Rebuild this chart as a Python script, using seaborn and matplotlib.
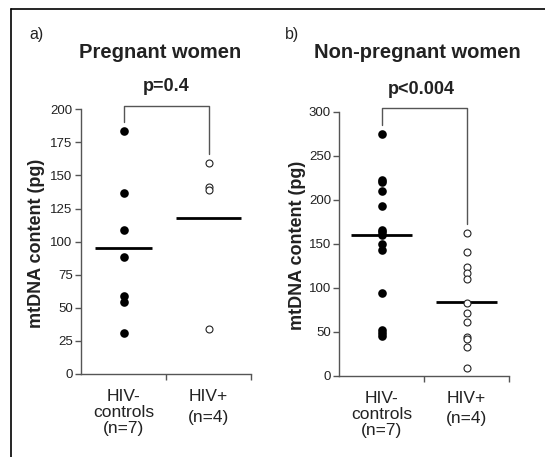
import numpy as np
import pandas as pd
import matplotlib
matplotlib.use("Agg")
import matplotlib.pyplot as plt
import seaborn as sns
from matplotlib.lines import Line2D

sns.set_theme(style="ticks")
plt.rcParams['font.family'] = ['Liberation Sans', 'DejaVu Sans']

# Groups and their axis labels
groups = ["HIV- controls", "HIV+"]
tick_labels = ["HIV-\ncontrols\n(n=7)", "HIV+\n(n=4)"]

# a) pregnant women, mtDNA content (pg)
preg_controls = [183.4, 137.0, 108.8, 88.7, 58.9, 54.7, 30.7]
preg_hiv = [159.2, 141.6, 139.0, 33.8]
preg_centre = [95.0, 118.1]
preg_p = "p=0.4"

# b) non-pregnant women, mtDNA content (pg)
nonpreg_controls = [274.6, 222.3, 219.7, 210.2, 193.2, 165.5, 163.3,
                    159.9, 150.0, 143.2, 94.3, 51.9, 48.5, 45.5]
nonpreg_hiv = [161.7, 140.2, 123.9, 116.3, 110.2, 82.2, 70.8, 61.4,
               44.3, 41.7, 33.0, 9.1]
nonpreg_centre = [159.8, 84.1]
nonpreg_p = "p<0.004"

W, H = 545, 457
fig = plt.figure(figsize=(W / 100, H / 100), dpi=100)

AX_COLOR = "#555555"
TXT_COLOR = "#222222"


def px(x, y):
    return x / W, 1 - y / H


def panel(rect, controls, hiv, centre, ymax, yticks, ptext, ptext_x, halfw):
    ax = fig.add_axes(rect)
    df_c = pd.DataFrame({"group": groups[0], "value": controls})
    df_h = pd.DataFrame({"group": groups[1], "value": hiv})
    sns.stripplot(data=df_c, x="group", y="value", order=groups, jitter=False,
                  color="black", size=6.2, linewidth=0, ax=ax, zorder=3)
    sns.stripplot(data=df_h, x="group", y="value", order=groups, jitter=False,
                  color="white", edgecolor="#222222", linewidth=0.8, size=5.0,
                  ax=ax, zorder=3)
    for i, c in enumerate(centre):
        ax.hlines(c, i - halfw[i], i + halfw[i], color="black", lw=2, zorder=2)

    ax.set_xlim(-0.5, 1.5)
    ax.set_ylim(0, ymax)
    ax.set_yticks(yticks)
    ax.set_xlabel("")
    ax.set_ylabel("")
    for s in ("top", "right"):
        ax.spines[s].set_visible(False)
    for s in ("left", "bottom"):
        ax.spines[s].set_color(AX_COLOR)
        ax.spines[s].set_linewidth(1.0)

    ax.set_xticks([0, 1])
    ax.set_xticklabels(tick_labels)
    ax.set_xticks([0.5, 1.5], minor=True)
    ax.tick_params(axis="x", which="major", length=0, pad=11,
                   labelsize=12.5, labelcolor=TXT_COLOR)
    ax.tick_params(axis="x", which="minor", length=4, width=1,
                   color=AX_COLOR, direction="out")
    ax.tick_params(axis="y", length=4, width=1, color=AX_COLOR,
                   labelsize=9.5, labelcolor=TXT_COLOR, pad=2)
    lbls = ax.get_xticklabels()
    lbls[0].set_linespacing(1.08)
    lbls[1].set_linespacing(1.45)

    # significance bracket between the two groups
    top = ymax * 1.014
    off = ymax * 0.035
    ax.plot([0, 0, 1, 1], [max(controls) + off, top, top, max(hiv) + off],
            color=AX_COLOR, lw=1, clip_on=False)
    ax.text(ptext_x, 1.085, ptext, transform=ax.get_xaxis_transform(),
            ha="center", va="center", fontsize=13, fontweight="bold",
            color=TXT_COLOR)
    return ax


ax_a = panel([81 / W, 1 - 374 / H, 170 / W, 264.7 / H],
             preg_controls, preg_hiv, preg_centre, 200,
             [0, 25, 50, 75, 100, 125, 150, 175, 200], preg_p, 0.5,
             [0.34, 0.38])
ax_b = panel([339.3 / W, 1 - 375.7 / H, 169.7 / W, 264 / H],
             nonpreg_controls, nonpreg_hiv, nonpreg_centre, 300,
             [0, 50, 100, 150, 200, 250, 300], nonpreg_p, 0.47,
             [0.36, 0.36])

# Panel letters, titles and axis titles
fig.text(*px(29, 34), "a)", fontsize=11.5, ha="left", va="center", color=TXT_COLOR)
fig.text(*px(285, 34), "b)", fontsize=11.5, ha="left", va="center", color=TXT_COLOR)
fig.text(*px(160.3, 52), "Pregnant women", fontsize=14.5, fontweight="bold",
         ha="center", va="center", color=TXT_COLOR)
fig.text(*px(417, 52), "Non-pregnant women", fontsize=14.5, fontweight="bold",
         ha="center", va="center", color=TXT_COLOR)
fig.text(*px(37, 243), "mtDNA content (pg)", fontsize=13, fontweight="bold",
         rotation=90, ha="center", va="center", color=TXT_COLOR)
fig.text(*px(297.5, 245), "mtDNA content (pg)", fontsize=13, fontweight="bold",
         rotation=90, ha="center", va="center", color=TXT_COLOR)

# Frame around the figure (left and top edges)
fig.add_artist(Line2D([11 / W, 11 / W], [0, 1 - 9 / H],
                      transform=fig.transFigure, color="black", lw=1.2))
fig.add_artist(Line2D([11 / W, 1], [1 - 9 / H, 1 - 9 / H],
                      transform=fig.transFigure, color="black", lw=1.2))

fig.savefig("out.png", dpi=100)
